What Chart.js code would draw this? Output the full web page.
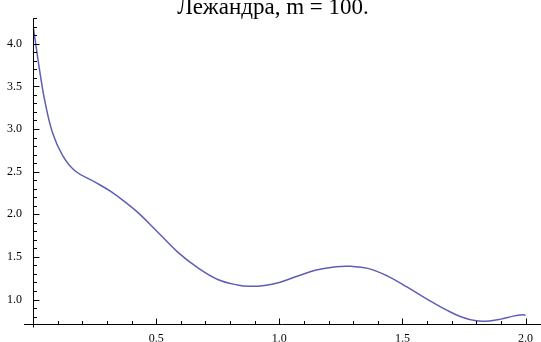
<!DOCTYPE html>
<html>
<head>
<meta charset="utf-8">
<script src="https://cdn.jsdelivr.net/npm/chart.js@4"></script>
<style>
  html, body { margin: 0; padding: 0; background: #fff; }
  #wrap { width: 541px; height: 342px; position: relative; }
</style>
</head>
<body>
<div id="wrap"><canvas id="c" width="541" height="342"></canvas></div>
<script>
const titleText = "Лежандра, m = 100.";
const xValues = [0, 0.01, 0.03, 0.05, 0.08, 0.12, 0.17, 0.25, 0.32, 0.38, 0.43, 0.51, 0.59, 0.67, 0.75, 0.83, 0.88, 0.94, 1.0, 1.07, 1.15, 1.23, 1.29, 1.36, 1.44, 1.52, 1.60, 1.68, 1.74, 1.80, 1.86, 1.90, 1.95, 1.99, 2.0];
const yValues = [4.22, 4.02, 3.63, 3.30, 2.95, 2.69, 2.51, 2.38, 2.26, 2.13, 2.01, 1.78, 1.55, 1.37, 1.235, 1.17, 1.155, 1.165, 1.2, 1.27, 1.345, 1.385, 1.39, 1.365, 1.275, 1.145, 1.005, 0.875, 0.795, 0.75, 0.75, 0.77, 0.805, 0.82, 0.815];
const xTickLabels = [0.5, 1.0, 1.5, 2.0];
const yTickLabels = [1.0, 1.5, 2.0, 2.5, 3.0, 3.5, 4.0];

const points = xValues.map((x, i) => ({ x: x, y: yValues[i] }));

const axisPlugin = {
  id: 'mmaAxes',
  afterDraw(chart) {
    const ctx = chart.ctx;
    const xs = chart.scales.x, ys = chart.scales.y;
    const ax = Math.round(xs.getPixelForValue(0)) + 0.5;
    const ay = Math.round(ys.getPixelForValue(ys.min)) + 0.5;
    ctx.save();
    ctx.strokeStyle = '#000';
    ctx.lineWidth = 1;
    ctx.beginPath();
    ctx.moveTo(24, ay); ctx.lineTo(chart.width, ay);
    ctx.moveTo(ax, ys.getPixelForValue(ys.max)); ctx.lineTo(ax, ay + 3);
    for (let k = 8; k <= 43; k++) {
      const v = k / 10;
      const py = Math.round(ys.getPixelForValue(v)) + 0.5;
      const len = (k % 5 === 0) ? 6 : 3.5;
      ctx.moveTo(ax, py); ctx.lineTo(ax + len, py);
    }
    for (let k = 1; k <= 20; k++) {
      const v = k / 10;
      const px = Math.round(xs.getPixelForValue(v)) + 0.5;
      const len = (k % 5 === 0) ? 6 : 3.5;
      ctx.moveTo(px, ay); ctx.lineTo(px, ay - len);
    }
    ctx.stroke();
    ctx.fillStyle = '#000';
    ctx.font = '23px "Liberation Serif", "DejaVu Serif", serif';
    ctx.textAlign = 'center';
    ctx.textBaseline = 'alphabetic';
    ctx.fillText(titleText, 273, 13.5);
    ctx.restore();
  }
};

new Chart(document.getElementById('c'), {
  type: 'scatter',
  data: {
    datasets: [{
      data: points,
      showLine: true,
      borderColor: '#5e5eb6',
      borderWidth: 1.5,
      pointRadius: 0,
      tension: 0.4,
      fill: false
    }]
  },
  options: {
    responsive: false,
    animation: false,
    layout: { padding: { top: 13, right: 0, left: 0, bottom: 0 } },
    plugins: { legend: { display: false }, tooltip: { enabled: false }, title: { display: false } },
    scales: {
      x: {
        type: 'linear',
        position: 'bottom',
        min: 0,
        max: 2.035,
        afterFit(scale) { scale.height = 18; },
        afterBuildTicks(scale) { scale.ticks = xTickLabels.map(v => ({ value: v })); },
        grid: { display: false, drawTicks: false },
        border: { display: false },
        ticks: {
          padding: 8,
          color: '#000',
          font: { family: '"Liberation Serif", serif', size: 12 },
          callback: (v) => Number(v).toFixed(1),
          maxRotation: 0,
          autoSkip: false
        }
      },
      y: {
        type: 'linear',
        position: 'left',
        min: 0.715,
        max: 4.3,
        afterFit(scale) { scale.width = 33; },
        afterBuildTicks(scale) { scale.ticks = yTickLabels.map(v => ({ value: v })); },
        grid: { display: false, drawTicks: false },
        border: { display: false },
        ticks: {
          padding: 11,
          color: '#000',
          font: { family: '"Liberation Serif", serif', size: 12 },
          callback: (v) => Number(v).toFixed(1),
          autoSkip: false
        }
      }
    }
  },
  plugins: [axisPlugin]
});
</script>
</body>
</html>
